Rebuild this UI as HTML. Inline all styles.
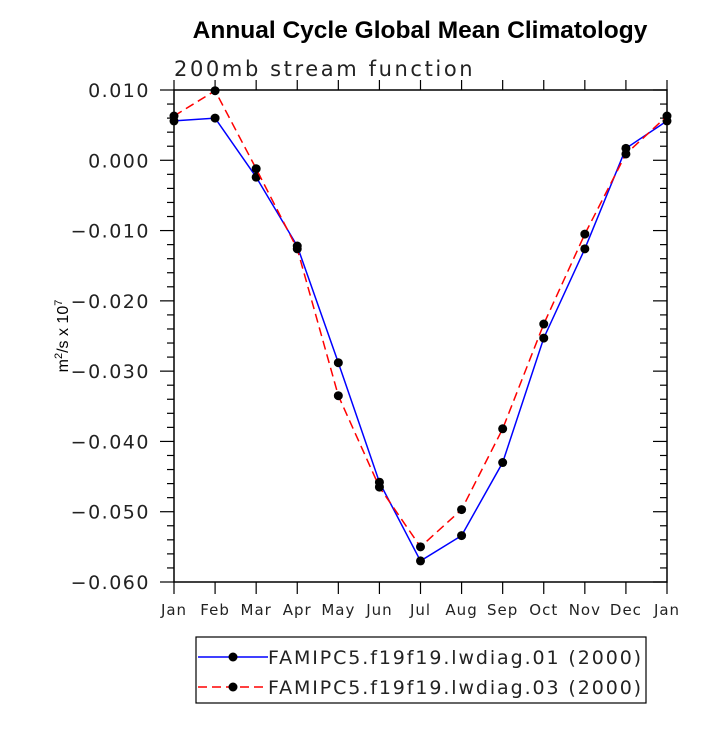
<!DOCTYPE html>
<html><head><meta charset="utf-8"><style>
body{margin:0;background:#fff;}
svg text{font-family:"Liberation Sans","DejaVu Sans",sans-serif;}
</style></head><body>
<svg width="725" height="725" viewBox="0 0 725 725" id="chart">
<rect width="725" height="725" fill="#fff"/>
<text x="420" y="38" text-anchor="middle" font-size="24.5" font-weight="bold">Annual Cycle Global Mean Climatology</text>
<text x="174" y="76" font-size="21" fill="#222" style="font-family:'DejaVu Sans',sans-serif;letter-spacing:2.6px">200mb stream function</text>
<text transform="translate(68,336) rotate(-90)" text-anchor="middle" font-size="16">m<tspan dy="-6" font-size="11">2</tspan><tspan dy="6">/s x 10</tspan><tspan dy="-6" font-size="11">7</tspan></text>
<g id="axes"></g>
<g id="series"></g>
<g id="legend"></g>
</svg>
<script>
const months = ["Jan","Feb","Mar","Apr","May","Jun","Jul","Aug","Sep","Oct","Nov","Dec","Jan"];
const series1 = [0.0056,0.0060,-0.0024,-0.0122,-0.0288,-0.0458,-0.0570,-0.0534,-0.0430,-0.0253,-0.0126,0.0017,0.0056];
const series2 = [0.0063,0.0099,-0.0012,-0.0126,-0.0335,-0.0465,-0.0550,-0.0497,-0.0382,-0.0233,-0.0105,0.0009,0.0063];
const yTicks = [0.010,0.000,-0.010,-0.020,-0.030,-0.040,-0.050,-0.060];
const yTickLabels = ["0.010","0.000","-0.010","-0.020","-0.030","-0.040","-0.050","-0.060"];
const seriesNames = ["FAMIPC5.f19f19.lwdiag.01 (2000)","FAMIPC5.f19f19.lwdiag.03 (2000)"];

const NS="http://www.w3.org/2000/svg";
const L=174,R=667,T=90,B=582,yMax=0.010,yMin=-0.060;
const xs=i=>L+(R-L)*i/(months.length-1);
const ys=v=>T+(yMax-v)/(yMax-yMin)*(B-T);
function mk(tag,attrs,parent){const e=document.createElementNS(NS,tag);for(const k in attrs)e.setAttribute(k,attrs[k]);parent.appendChild(e);return e;}
const axes=document.getElementById('axes');
const frame=mk('rect',{x:L,y:T,width:R-L,height:B-T,fill:'none',stroke:'#000','stroke-width':1.5},axes);


for(let v=yMax;v>=yMin-1e-9;v-=0.002){
  const y=ys(v);const major=Math.abs(Math.round(v*1000)%10)===0;
  const len=major?14:7;
  mk('line',{x1:L-len,y1:y,x2:L,y2:y,stroke:'#000','stroke-width':1.2},axes);
  mk('line',{x1:R,y1:y,x2:R-len,y2:y,stroke:'#000','stroke-width':1.2},axes);
}
yTicks.forEach((v,i)=>{
  const t=mk('text',{x:L-24,y:ys(v)+7,'text-anchor':'end','font-size':19,fill:'#222'},axes);
  t.style.fontFamily="'DejaVu Sans',sans-serif";
  t.style.letterSpacing="1.5px";
  t.textContent=yTickLabels[i].replace('-','\u2212');
  
  
});
months.forEach((m,i)=>{
  const x=xs(i);
  mk('line',{x1:x,y1:B,x2:x,y2:B+12,stroke:'#000','stroke-width':1.2},axes);
  mk('line',{x1:x,y1:T,x2:x,y2:T-10,stroke:'#000','stroke-width':1.2},axes);
  const t=mk('text',{x:x,y:B+33,'text-anchor':'middle','font-size':15,fill:'#222'},axes);
  t.style.fontFamily="'DejaVu Sans',sans-serif";
  t.style.letterSpacing="1px";
  t.textContent=m;
  
  
});
const sg=document.getElementById('series');
function draw(vals,color,dash,name){
  const g=mk('g',{},sg);
  
  
  const p=mk('polyline',{points:vals.map((v,i)=>xs(i)+','+ys(v)).join(' '),fill:'none',stroke:color,'stroke-width':1.5},g);
  if(dash)p.setAttribute('stroke-dasharray',dash);
  vals.forEach((v,i)=>{const c=mk('circle',{cx:xs(i),cy:ys(v),r:4.5,fill:'#000'},g);
    
    });
}
draw(series1,'#0000ff',null,'series-lwdiag-01');
draw(series2,'#ff0000','9,5','series-lwdiag-03');
const lg=document.getElementById('legend');
mk('rect',{x:196,y:637,width:450,height:66,fill:'#fff',stroke:'#000','stroke-width':1.2},lg);
[['#0000ff',null],['#ff0000','9,5']].forEach((s,i)=>{
  const y=657+i*30;
  const l=mk('line',{x1:198,y1:y,x2:268,y2:y,stroke:s[0],'stroke-width':1.5},lg);
  if(s[1])l.setAttribute('stroke-dasharray',s[1]);
  mk('circle',{cx:233,cy:y,r:4.5,fill:'#000'},lg);
  const t=mk('text',{x:268,y:y+7,'font-size':19,fill:'#222'},lg);
  t.style.fontFamily="'DejaVu Sans',sans-serif";
  t.style.letterSpacing="1.9px";
  t.textContent=seriesNames[i];
  
  
});
</script>
</body></html>
